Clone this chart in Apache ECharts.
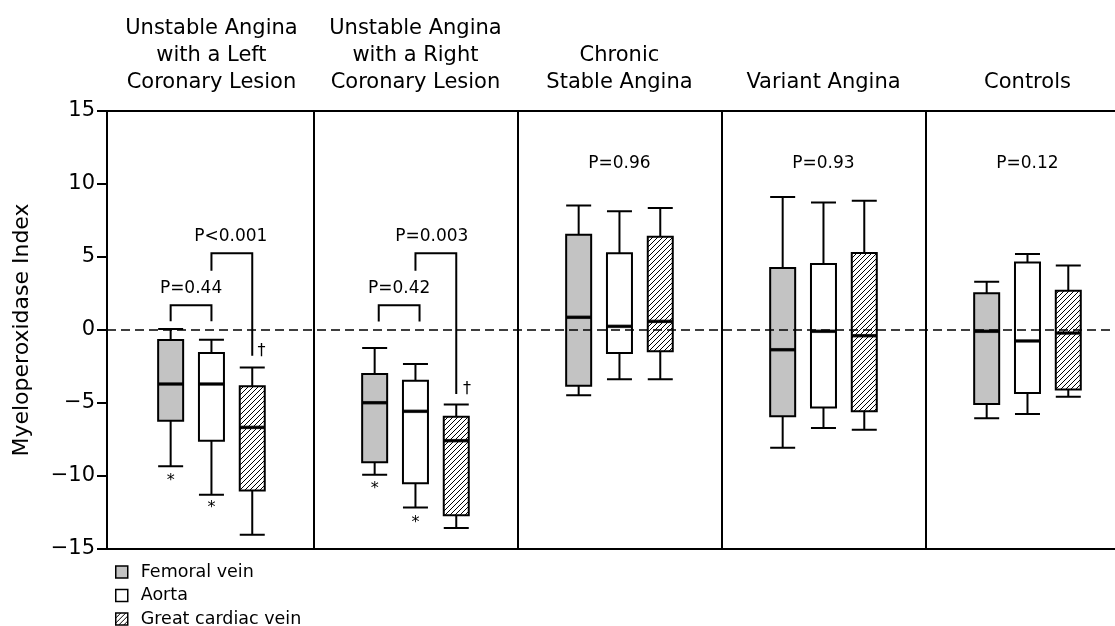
<!DOCTYPE html>
<html><head><meta charset="utf-8">
<script src="https://cdn.jsdelivr.net/npm/echarts@6/dist/echarts.min.js"></script>
<style>html,body{margin:0;padding:0;background:#fff}#c{width:1115px;height:626px}</style>
</head><body><div id="c"></div>
<script>
// ---- data ----
const groups = [
  'Unstable Angina\nwith a Left\nCoronary Lesion',
  'Unstable Angina\nwith a Right\nCoronary Lesion',
  'Chronic\nStable Angina',
  'Variant Angina',
  'Controls'
];
const seriesNames = ['Femoral vein', 'Aorta', 'Great cardiac vein'];
// [min, Q1, median, Q3, max] per group
const femoral = [
  [-9.34, -6.21, -3.70, -0.68, 0.07],
  [-9.91, -9.06, -4.98, -3.01, -1.23],
  [-4.47, -3.81, 0.87, 6.53, 8.52],
  [-8.06, -5.91, -1.35, 4.25, 9.11],
  [-6.05, -5.07, -0.09, 2.51, 3.31]
];
const aorta = [
  [-11.28, -7.58, -3.70, -1.58, -0.66],
  [-12.15, -10.50, -5.57, -3.47, -2.33],
  [-3.38, -1.58, 0.25, 5.25, 8.13],
  [-6.71, -5.30, -0.09, 4.52, 8.74],
  [-5.75, -4.32, -0.75, 4.63, 5.21]
];
const cardiac = [
  [-14.02, -11.00, -6.67, -3.86, -2.56],
  [-13.56, -12.69, -7.58, -5.94, -5.11],
  [-3.38, -1.46, 0.59, 6.39, 8.36],
  [-6.83, -5.57, -0.39, 5.27, 8.86],
  [-4.57, -4.07, -0.21, 2.69, 4.41]
];
const yMin = -15, yMax = 15, yStep = 5;
const pLabels = ['P=0.44', 'P<0.001', 'P=0.42', 'P=0.003', 'P=0.96', 'P=0.93', 'P=0.12'];
const pLabelPos = [[0.40, 2.85], [0.595, 6.4], [1.42, 2.85], [1.58, 6.39], [2.5, 11.4], [3.5, 11.4], [4.5, 11.4]];
// [xLeft, yLeftEnd, xRight, yRightEnd, yTop]
const brackets = [
  [0.30, 0.6, 0.50, 0.6, 1.69],
  [0.50, 4.06, 0.70, -1.76, 5.25],
  [1.32, 0.59, 1.52, 0.59, 1.69],
  [1.50, 4.06, 1.70, -4.38, 5.25]
];
const marks = ['*', '*', '\u2020', '*', '*', '\u2020'];
const markPos = [[0.30, -10.3], [0.50, -12.2], [0.745, -1.42], [1.30, -10.9], [1.50, -13.2], [1.753, -4.0]];

// ---- layout / style ----
const FONT = '"DejaVu Sans", sans-serif';
const boxOffsets = [0.30, 0.50, 0.70];
const seriesData = [femoral, aorta, cardiac];
const X_MIN = -0.012, X_MAX = 4.929;

function hatch() {
  const s = 5;
  const c = document.createElement('canvas');
  c.width = s; c.height = s;
  const ctx = c.getContext('2d');
  ctx.fillStyle = '#fff'; ctx.fillRect(0, 0, s, s);
  ctx.strokeStyle = '#000'; ctx.lineWidth = 1;
  ctx.beginPath();
  ctx.moveTo(-1, s + 1); ctx.lineTo(s + 1, -1);
  ctx.moveTo(-1, 1); ctx.lineTo(1, -1);
  ctx.moveTo(s - 1, s + 1); ctx.lineTo(s + 1, s - 1);
  ctx.stroke();
  return c;
}
const fills = ['#c3c3c3', '#ffffff', { image: hatch(), repeat: 'repeat' }];

const series = [];
// background guides: zero line and panel dividers
series.push({
  type: 'line', data: [], z: 1, silent: true, xAxisIndex: 0,
  markLine: {
    silent: true, symbol: 'none', animation: false,
    label: { show: false },
    data: [
      { yAxis: 0, lineStyle: { type: [9, 5], color: '#000', width: 1.6 } },
      ...[1, 2, 3, 4].map(v => ({ xAxis: v, lineStyle: { type: 'solid', color: '#000', width: 2 } }))
    ]
  }
});
seriesData.forEach((vals, s) => {
  series.push({
    type: 'boxplot', name: seriesNames[s], z: 3, xAxisIndex: s,
    data: vals.map((v, i) => [i + boxOffsets[s], ...v]),
    boxWidth: [25, 25],
    itemStyle: { color: fills[s], borderColor: '#000', borderWidth: 2 },
    emphasis: { disabled: true }
  });
  series.push({
    type: 'scatter', z: 4, silent: true, xAxisIndex: 0,
    data: vals.map((v, i) => [i + boxOffsets[s], v[2]]),
    symbol: 'rect', symbolSize: [25, 3.5],
    itemStyle: { color: '#000' }
  });
});
series.push({
  type: 'custom', z: 5, silent: true, xAxisIndex: 0,
  data: brackets,
  encode: { x: [0, 2], y: [1, 3, 4] },
  renderItem: (params, api) => {
    const pts = [
      api.coord([api.value(0), api.value(1)]),
      api.coord([api.value(0), api.value(4)]),
      api.coord([api.value(2), api.value(4)]),
      api.coord([api.value(2), api.value(3)])
    ];
    return { type: 'polyline', shape: { points: pts }, style: { stroke: '#000', lineWidth: 2, fill: null } };
  }
});
series.push({
  type: 'custom', z: 5, silent: true, xAxisIndex: 0,
  data: pLabelPos,
  renderItem: (params, api) => {
    const p = api.coord([api.value(0), api.value(1)]);
    return { type: 'text', x: p[0], y: p[1], style: { text: pLabels[params.dataIndex], font: '17px ' + FONT, fill: '#000', align: 'center', verticalAlign: 'middle' } };
  }
});
series.push({
  type: 'custom', z: 5, silent: true, xAxisIndex: 0,
  data: markPos,
  renderItem: (params, api) => {
    const p = api.coord([api.value(0), api.value(1)]);
    return { type: 'text', x: p[0], y: p[1], style: { text: marks[params.dataIndex], font: '16px ' + FONT, fill: '#000', align: 'center', verticalAlign: 'middle' } };
  }
});

const chart = echarts.init(document.getElementById('c'), null, { renderer: 'canvas' });
const frameAxis = (pos) => ({
  type: 'value', min: X_MIN, max: X_MAX, position: pos,
  axisLine: { show: true, onZero: false, lineStyle: { color: '#000', width: 2 } },
  axisTick: { show: false }, axisLabel: { show: false }, splitLine: { show: false }
});
const option = {
  animation: false,
  backgroundColor: '#fff',
  grid: { left: 107, top: 111, right: 0, height: 438, show: false },
  xAxis: [frameAxis('bottom'), frameAxis('top'), { type: 'value', min: X_MIN, max: X_MAX, show: false }],
  yAxis: {
    type: 'value', min: yMin, max: yMax, interval: yStep,
    axisLine: { show: true, onZero: false, lineStyle: { color: '#000', width: 2 } },
    axisTick: { show: true, length: 10, lineStyle: { color: '#000', width: 2 } },
    axisLabel: { color: '#000', fontSize: 21, fontFamily: FONT, margin: 12, formatter: v => String(v).replace('-', '\u2212') },
    splitLine: { show: false },
    name: 'Myeloperoxidase Index', nameLocation: 'middle', nameGap: 74,
    nameTextStyle: { fontSize: 22, color: '#000', fontFamily: FONT }
  },
  legend: {
    orient: 'vertical', left: 115, top: 563, height: 80, padding: 0,
    itemWidth: 12, itemHeight: 12, itemGap: 5.5,
    icon: 'rect', selectedMode: false,
    data: seriesNames.map((n, i) => ({ name: n, itemStyle: { color: fills[i], borderColor: '#000', borderWidth: 1.5 } })),
    textStyle: { fontSize: 17.5, color: '#000', fontFamily: FONT, padding: [0, 0, 0, 8] }
  },
  series
};
chart.setOption(option);
const titleEls = groups.map((g, i) => {
  const x = chart.convertToPixel({ xAxisIndex: 0 }, i + 0.5);
  return { type: 'text', x: x, y: 96, style: { text: g, font: '21px ' + FONT, fill: '#000', align: 'center', verticalAlign: 'bottom', lineHeight: 27 } };
});
chart.setOption({ graphic: titleEls });
</script>
</body></html>
